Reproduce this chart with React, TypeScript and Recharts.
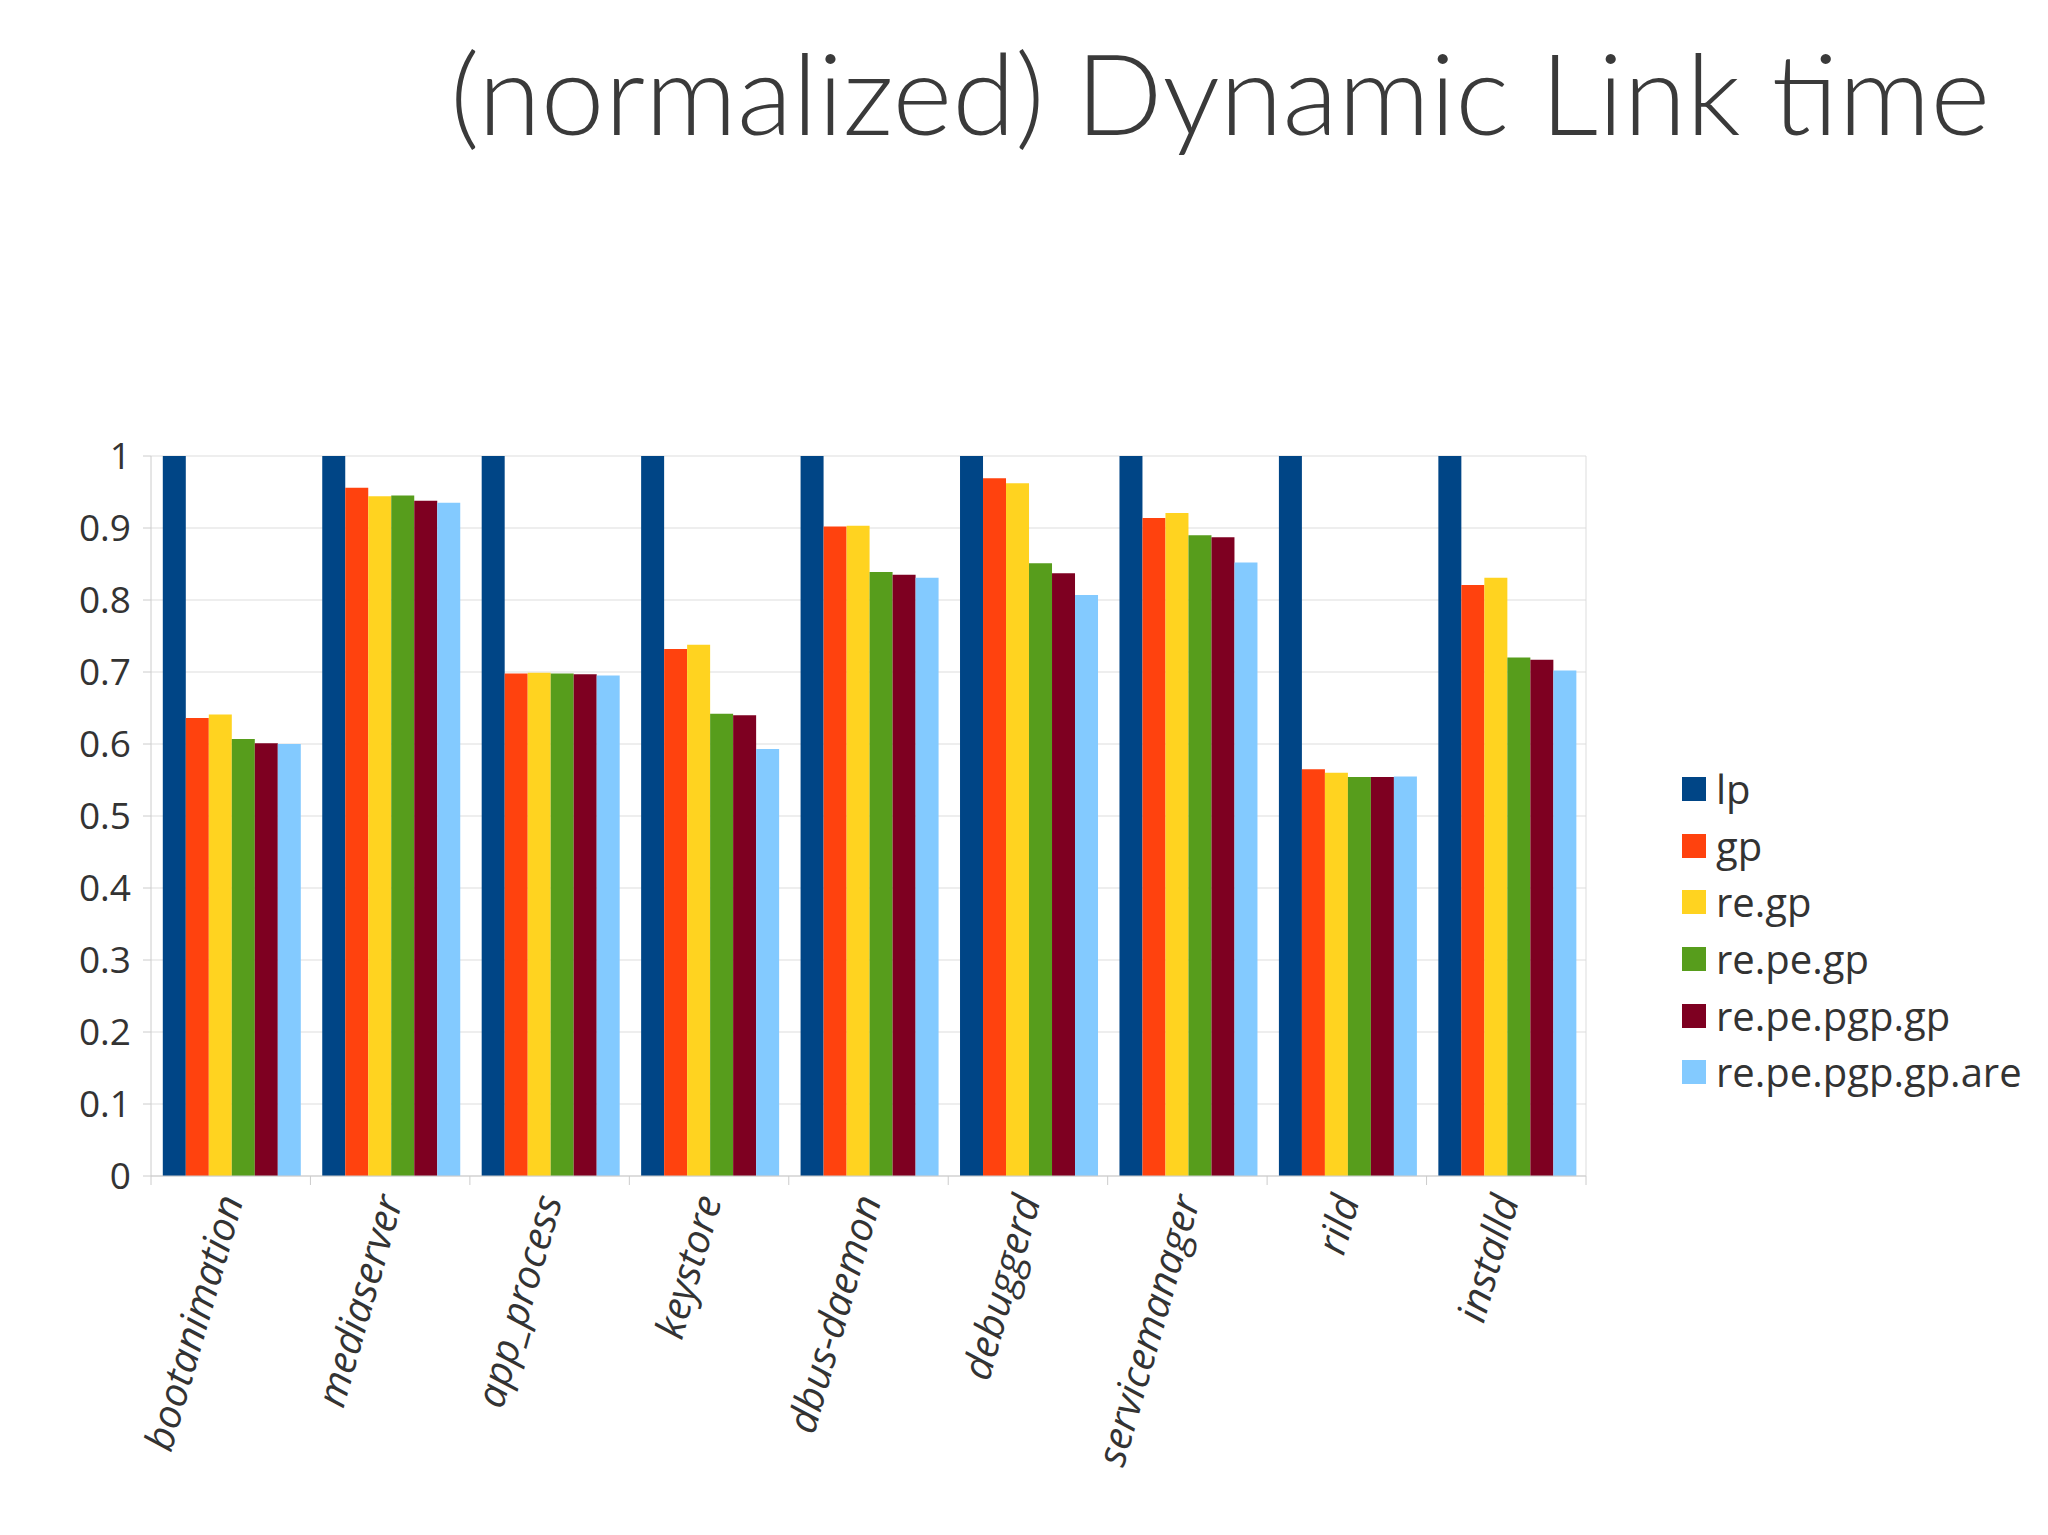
import { ReactElement } from "react";
import {
  BarChart,
  Bar,
  XAxis,
  YAxis,
  CartesianGrid,
  Legend,
} from "recharts";

const programs = [
  "bootanimation",
  "mediaserver",
  "app_process",
  "keystore",
  "dbus-daemon",
  "debuggerd",
  "servicemanager",
  "rild",
  "installd",
];

const lp = [1, 1, 1, 1, 1, 1, 1, 1, 1];
const gp = [0.636, 0.956, 0.698, 0.732, 0.902, 0.969, 0.914, 0.565, 0.821];
const reGp = [0.641, 0.944, 0.699, 0.738, 0.903, 0.962, 0.921, 0.56, 0.831];
const rePeGp = [0.607, 0.945, 0.698, 0.642, 0.839, 0.851, 0.89, 0.554, 0.72];
const rePePgpGp = [0.601, 0.938, 0.697, 0.64, 0.835, 0.837, 0.887, 0.554, 0.717];
const rePePgpGpAre = [0.6, 0.935, 0.695, 0.593, 0.831, 0.807, 0.852, 0.555, 0.702];

const yTicks = [0, 0.1, 0.2, 0.3, 0.4, 0.5, 0.6, 0.7, 0.8, 0.9, 1];

const series = [
  { key: "lp", values: lp, color: "#004586" },
  { key: "gp", values: gp, color: "#ff420e" },
  { key: "re.gp", values: reGp, color: "#ffd320" },
  { key: "re.pe.gp", values: rePeGp, color: "#579d1c" },
  { key: "re.pe.pgp.gp", values: rePePgpGp, color: "#7e0021" },
  { key: "re.pe.pgp.gp.are", values: rePePgpGpAre, color: "#83caff" },
];

const rows = programs.map((name, i) => {
  const row: Record<string, string | number> = { name };
  series.forEach((s) => {
    row[s.key] = s.values[i];
  });
  return row;
});

const CHART_W = 2040;
const CHART_H = 1520;
const Y_W = 143;
const MARGIN = { top: 448, right: 462, bottom: 152, left: 0 };
const PLOT_W = CHART_W - MARGIN.right - Y_W;
const FONT = "'Open Sans', 'Noto Sans', sans-serif";
const TEXT = "#333333";

function XTick(props: any): ReactElement {
  const { x, y, payload, index } = props;
  const bw = PLOT_W / programs.length;
  return (
    <g transform={`translate(${x},${y})`}>
      <line x1={-bw / 2} y1={0} x2={-bw / 2} y2={9} stroke="#cccccc" />
      {index === programs.length - 1 && (
        <line x1={bw / 2} y1={0} x2={bw / 2} y2={9} stroke="#cccccc" />
      )}
      <text
        transform="translate(13,24) rotate(-74)"
        textAnchor="end"
        fontFamily={FONT}
        fontStyle="italic"
        fontSize={40}
        fill={TEXT}
      >
        {payload.value}
      </text>
    </g>
  );
}

function LegendBox(props: any): ReactElement {
  const order = series.map((s) => s.key);
  const items = [...(props.payload || [])].sort(
    (a: any, b: any) => order.indexOf(a.value) - order.indexOf(b.value)
  );
  return (
    <div style={{ fontFamily: FONT, fontSize: 40, color: TEXT }}>
      {items.map((p: any) => (
        <div
          key={p.value}
          style={{ display: "flex", alignItems: "center", height: 56.6 }}
        >
          <span
            style={{
              display: "inline-block",
              width: 24,
              height: 24,
              background: p.color,
              marginRight: 10,
            }}
          />
          <span style={{ lineHeight: "56px" }}>{p.value}</span>
        </div>
      ))}
    </div>
  );
}

export default function App(): ReactElement {
  return (
    <div style={{ position: "relative", width: CHART_W, height: CHART_H }}>
      <svg
        width={CHART_W}
        height={200}
        style={{ position: "absolute", left: 0, top: 0 }}
      >
        <text
          x={442}
          y={127}
          fontFamily="Lato, 'Open Sans', sans-serif"
          fontWeight={300}
          fontSize={112}
          fill="#3a3a3a"
          textLength={1540}
          lengthAdjust="spacingAndGlyphs"
        >
          (normalized) Dynamic Link time
        </text>
      </svg>
      <BarChart
        width={CHART_W}
        height={CHART_H}
        data={rows}
        margin={MARGIN}
        barCategoryGap="7.4%"
        barGap={0}
        style={{ position: "absolute", left: 0, top: 0 }}
      >
        <CartesianGrid
          stroke="#dddddd"
          horizontal
          verticalCoordinatesGenerator={({ offset }: any) => [
            offset.left + offset.width,
          ]}
        />
        <XAxis
          dataKey="name"
          interval={0}
          height={200}
          tickLine={false}
          tickSize={0}
          tickMargin={0}
          axisLine={{ stroke: "#cccccc" }}
          tick={<XTick />}
        />
        <YAxis
          domain={[0, 1]}
          ticks={yTicks}
          width={Y_W}
          tickSize={8}
          tickMargin={12}
          axisLine={{ stroke: "#cccccc" }}
          tickLine={{ stroke: "#cccccc" }}
          tick={{ fontFamily: FONT, fontSize: 37, fill: TEXT }}
          tickFormatter={(v: number) => String(v)}
        />
        <Legend
          layout="vertical"
          align="center"
          verticalAlign="middle"
          wrapperStyle={{ left: 1674, top: 753, width: 360 }}
          content={<LegendBox />}
        />
        {series.map((s) => (
          <Bar
            key={s.key}
            dataKey={s.key}
            name={s.key}
            fill={s.color}
            isAnimationActive={false}
          />
        ))}
      </BarChart>
    </div>
  );
}
